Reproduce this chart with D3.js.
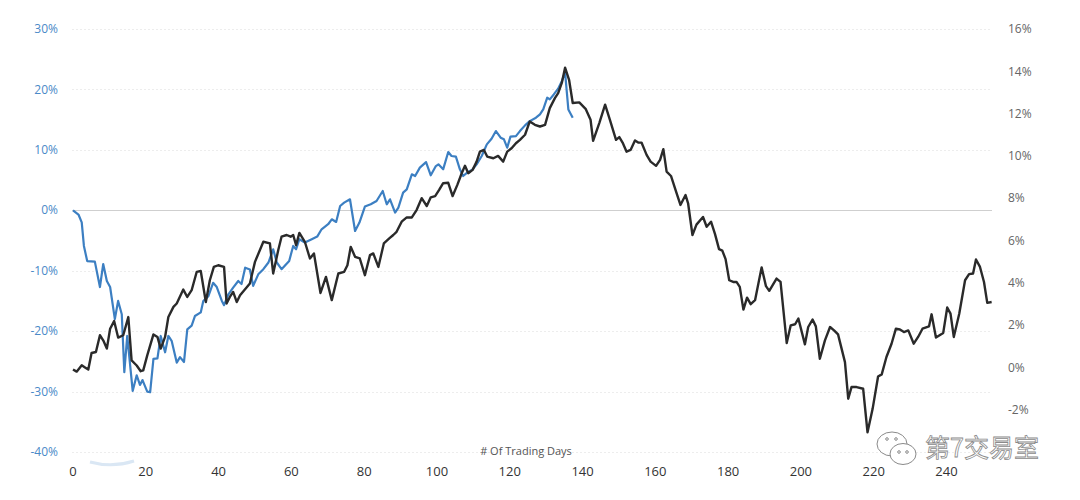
<!DOCTYPE html>
<html>
<head>
<meta charset="utf-8">
<script src="https://cdn.jsdelivr.net/npm/d3@7"></script>
<style>
  html, body { margin: 0; padding: 0; background: #fff; }
  svg { display: block; font-family: 'Open Sans', 'Noto Sans', sans-serif; }
</style>
</head>
<body>
<svg class="chart"></svg>
<script>
const WIDTH = 1080
const HEIGHT = 500

// left axis (blue series) ticks, percent
const leftTicks = [-40, -30, -20, -10, 0, 10, 20, 30]
// right axis (black series) ticks, percent
const rightTicks = [-2, 0, 2, 4, 6, 8, 10, 12, 14, 16]
const dayTicks = [0, 20, 40, 60, 80, 100, 120, 140, 160, 180, 200, 220, 240]

// blue series: [trading day, % return] read on left axis
const blueSeries = [
  [0, 0], [1.5, -0.7], [2.4, -2], [3, -5.9], [3.9, -8.4], [6, -8.5], [7.4, -12.7], [8.3, -8.9],
  [9.3, -11.7], [10.2, -12.7], [11.5, -18], [12.4, -15], [13.4, -17.2], [14.1, -26.8], [14.9, -20.8],
  [16.4, -29.9], [17.5, -27.3], [18.4, -28.9], [19.1, -28.1], [20.4, -30], [21.2, -30.1], [22.1, -24.6],
  [23.2, -24.5], [24.1, -20.8], [25.3, -23.5], [26.2, -20.8], [27.1, -21.6], [28.5, -25.2], [29.4, -24.3],
  [30.5, -25.1], [31.4, -19.7], [32.6, -19.1], [33.5, -17.5], [35.1, -16.9], [35.8, -15], [37.2, -14.2],
  [38.5, -12], [39.5, -12.7], [40.9, -15], [41.5, -15.7], [42.7, -13.9], [44, -12.8], [45.4, -11.7],
  [46.3, -12.2], [47.3, -9.5], [48.6, -9.8], [49.5, -12.5], [50.9, -10.6], [52.3, -9.75], [53.7, -8.64],
  [55, -6.45], [56, -8.64], [57.3, -9.75], [59.4, -8.38], [60.5, -5.9], [61.3, -6.45], [62.2, -4.79],
  [63.7, -5.34], [65.6, -4.79], [67.1, -4.35], [68.3, -3.14], [70.1, -2.31], [71.1, -1.49], [72.3, -1.93],
  [73.4, 0.71], [74.5, 1.27], [76.1, 1.82], [77.5, -3.42], [78.7, -2.03], [80.2, 0.61], [81.8, 0.99],
  [83.4, 1.54], [85.1, 3.19], [86.2, 0.99], [87.1, 1.82], [88.5, -0.38], [89.4, 0.45], [90.7, 2.93],
  [91.7, 3.47], [93.1, 5.95], [94, 5.67], [95.3, 7.06], [97, 7.98], [98.3, 5.79], [99.7, 7.32],
  [100.4, 7.6], [101.7, 6.78], [103.1, 9.64], [104, 8.98], [105.2, 8.88], [106.3, 6.78], [107.2, 5.67],
  [108.3, 6.23], [109.8, 6.78], [110.9, 7.6], [112.3, 8.98], [113.7, 10.91], [115, 11.85], [116.2, 13.11],
  [117.5, 12.02], [118.4, 11.74], [119.3, 10.36], [120.2, 12.18], [121.7, 12.28], [122.8, 13.11],
  [124.2, 14.05], [125.5, 14.76], [127.2, 15.32], [128.3, 15.87], [129.2, 16.69], [130.3, 18.63],
  [131, 18.35], [132.1, 19.17], [133.3, 20.12], [134.3, 21.37], [135.2, 22.81], [136.1, 16.69], [137.3, 15.32]
]

// black series: [trading day, % return] read on right axis
const blackSeries = [
  [0, -0.1], [1, -0.2], [2.4, 0.1], [3.3, 0], [4.2, -0.1], [5.1, 0.68], [6.3, 0.73], [7.4, 1.52],
  [8.3, 1.28], [9.3, 0.89], [10.2, 1.83], [11.3, 2.19], [12.4, 1.41], [13.8, 1.52], [15.2, 2.38],
  [16.1, 0.33], [17.5, 0.09], [18.6, -0.18], [19.3, -0.14], [20.4, 0.57], [22.1, 1.56], [23.2, 1.44],
  [24.1, 0.89], [25.3, 1.44], [26.2, 2.38], [27.6, 2.86], [28.5, 3.02], [30.3, 3.68], [31.4, 3.33],
  [32.6, 3.65], [34, 4.52], [35.1, 4.56], [36.5, 3.09], [37.6, 4.12], [38.7, 4.75], [39.9, 4.83],
  [41.5, 4.75], [42.2, 3.02], [43.1, 3.33], [44, 3.57], [45, 3.09], [45.9, 3.41], [48.6, 3.97],
  [50, 4.99], [52.3, 5.94], [54.1, 5.86], [55, 4.44], [56.4, 5.55], [57.3, 6.18], [58.7, 6.26],
  [59.8, 6.18], [60.5, 6.26], [61.3, 5.78], [62.2, 6.36], [63.7, 5.94], [65.1, 5.15], [66.2, 5.39],
  [68, 3.52], [69.5, 4.28], [71.1, 3.18], [72.9, 4.44], [74.5, 4.52], [75.4, 4.83], [76.3, 5.7],
  [77.5, 5.23], [78.8, 5.15], [80.2, 4.36], [81.6, 5.31], [82.5, 5.39], [83.9, 4.75], [85.4, 5.86],
  [86.9, 6.1], [88, 6.26], [88.9, 6.41], [90.3, 6.89], [91.7, 7.09], [93.1, 7.09], [94.4, 7.44],
  [95.8, 8], [97.2, 7.63], [98.3, 8.04], [99.5, 8.1], [100.6, 8.39], [101.7, 8.71], [103.1, 8.73],
  [104.3, 8.1], [105.6, 8.63], [106.8, 9.18], [107.7, 9.53], [108.6, 9.18], [109.8, 9.34], [110.9, 9.73],
  [111.8, 10.2], [112.9, 10.28], [113.8, 9.97], [115.5, 9.89], [116.8, 10], [118.2, 9.73], [119.3, 10.2],
  [120.5, 10.36], [121.7, 10.6], [122.8, 10.76], [124.2, 11], [125.5, 11.63], [126.9, 11.47],
  [128.3, 11.39], [129.7, 11.47], [131, 12.26], [132.4, 12.73], [133.3, 12.97], [134.3, 13.45],
  [135.2, 14.17], [136.3, 13.6], [137.3, 12.5], [139.1, 12.53], [140.9, 12.21], [142.2, 11.71],
  [142.9, 10.71], [144.6, 11.55], [146.2, 12.42], [147.5, 11.71], [149.2, 10.76], [150.1, 10.89],
  [151, 10.63], [152.1, 10.2], [153.2, 10.28], [154.4, 10.73], [155.3, 10.63], [156.2, 10.63],
  [157.6, 10.05], [158.7, 9.73], [160.2, 9.53], [161.3, 9.81], [162.2, 10.32], [163.1, 9.26],
  [164.3, 9.05], [165.7, 8.31], [166.9, 7.68], [168.3, 8.15], [169, 7.76], [170.2, 6.26], [171.3, 6.75],
  [173.1, 7.11], [174.1, 6.65], [175.3, 6.89], [176.4, 6.3], [177.5, 5.59], [178.4, 5.52], [179.3, 5.12],
  [180.3, 4.12], [181.4, 4.04], [182.3, 4.04], [183.2, 3.81], [184.2, 2.73], [185.2, 3.3], [186.2, 2.99],
  [187.4, 3.18], [189.2, 4.73], [190.4, 3.84], [191.3, 3.62], [193.3, 4.2], [194.4, 4.04], [196.1, 1.15],
  [197.2, 1.99], [198.4, 2.04], [199.3, 2.31], [201.1, 1.09], [202, 1.91], [203.2, 2.26], [204.1, 1.94],
  [205.2, 0.41], [206.6, 1.28], [208, 1.91], [209.1, 1.75], [210.2, 1.56], [212.1, 0.25], [213, -1.48],
  [213.9, -0.93], [215.3, -0.93], [217.1, -1.01], [218.3, -3.07], [219.7, -1.96], [221.2, -0.43],
  [222.2, -0.33], [223.5, 0.49], [224.9, 1.12], [226.1, 1.83], [227.2, 1.79], [228.3, 1.67], [229.5, 1.75],
  [231, 1.12], [232.2, 1.44], [233.4, 1.83], [235.2, 1.94], [235.9, 2.51], [237.1, 1.41], [239.1, 1.63],
  [240.2, 2.83], [241.1, 2.54], [242, 1.44], [243.5, 2.54], [245.1, 4.12], [246.2, 4.41], [247.3, 4.44],
  [248.1, 5.1], [249.2, 4.75], [250.3, 4.04], [251.2, 3.05], [252.4, 3.09]
]

const svg = d3.select('.chart')
  .attr('width', WIDTH)
  .attr('height', HEIGHT)

svg.append('rect').attr('width', WIDTH).attr('height', HEIGHT).attr('fill', '#fff')

const xScale = d3.scaleLinear().domain([0, 252.5]).range([73, 992])
const yLeft = d3.scaleLinear().domain([-40, 30]).range([452, 29])
const yRight = d3.scaleLinear().domain([-4, 16]).range([452, 29])

// gridlines on the left ticks
svg.append('g')
  .selectAll('line')
  .data(leftTicks)
  .enter()
  .append('line')
  .attr('x1', xScale(0) - 1)
  .attr('x2', xScale.range()[1])
  .attr('y1', d => Math.round(yLeft(d)) + .5)
  .attr('y2', d => Math.round(yLeft(d)) + .5)
  .attr('stroke', d => d === 0 ? '#cfcfcf' : '#ededed')
  .attr('stroke-dasharray', d => d === 0 ? null : '2,2')

// left axis labels
svg.append('g')
  .selectAll('text')
  .data(leftTicks)
  .enter()
  .append('text')
  .attr('x', 58)
  .attr('y', d => yLeft(d))
  .attr('dy', '.35em')
  .attr('text-anchor', 'end')
  .attr('font-size', '12px')
  .attr('fill', '#4a8ac8')
  .text(d => `${d}%`)

// right axis labels
svg.append('g')
  .selectAll('text')
  .data(rightTicks)
  .enter()
  .append('text')
  .attr('x', 1008)
  .attr('y', d => yRight(d))
  .attr('dy', '.35em')
  .attr('font-size', '12px')
  .attr('fill', '#666')
  .text(d => `${d}%`)

// x axis labels
svg.append('g')
  .selectAll('text')
  .data(dayTicks)
  .enter()
  .append('text')
  .attr('x', d => xScale(d))
  .attr('y', 471)
  .attr('dy', '.35em')
  .attr('text-anchor', 'middle')
  .attr('font-size', '13px')
  .attr('fill', '#333')
  .text(d => d)

svg.append('text')
  .attr('x', 526)
  .attr('y', 451)
  .attr('dy', '.35em')
  .attr('text-anchor', 'middle')
  .attr('font-size', '11px')
  .attr('fill', '#555')
  .text('# Of Trading Days')

// faint blue smudge under the axis
svg.append('path')
  .attr('d', 'M90,462 Q112,468 134,461')
  .attr('fill', 'none')
  .attr('stroke', '#dae7f4')
  .attr('stroke-width', 3)

const blueLine = d3.line().x(d => xScale(d[0])).y(d => yLeft(d[1]))
const blackLine = d3.line().x(d => xScale(d[0])).y(d => yRight(d[1]))

svg.append('path')
  .datum(blueSeries)
  .attr('d', blueLine)
  .attr('fill', 'none')
  .attr('stroke', '#3c7fc2')
  .attr('stroke-width', 2.2)
  .attr('stroke-linejoin', 'round')

svg.append('path')
  .datum(blackSeries)
  .attr('d', blackLine)
  .attr('fill', 'none')
  .attr('stroke', '#2a2a2a')
  .attr('stroke-width', 2.4)
  .attr('stroke-linejoin', 'round')

// watermark
const wm = svg.append('g').attr('fill', '#fff').attr('stroke', '#8a8a8a').attr('stroke-width', 1)
wm.append('ellipse').attr('cx', 892).attr('cy', 444).attr('rx', 15).attr('ry', 12)
wm.append('ellipse').attr('cx', 903).attr('cy', 454).attr('rx', 13).attr('ry', 10.5)
wm.selectAll('circle')
  .data([[887, 439], [896, 439], [899, 452], [907, 452]])
  .enter()
  .append('circle')
  .attr('cx', d => d[0])
  .attr('cy', d => d[1])
  .attr('r', 1.3)
wm.append('text')
  .attr('x', 925)
  .attr('y', 457)
  .attr('font-family', "'Noto Sans CJK SC', sans-serif")
  .attr('font-size', '25px')
  .attr('stroke-width', .8)
  .text('第7交易室')
</script>
</body>
</html>
